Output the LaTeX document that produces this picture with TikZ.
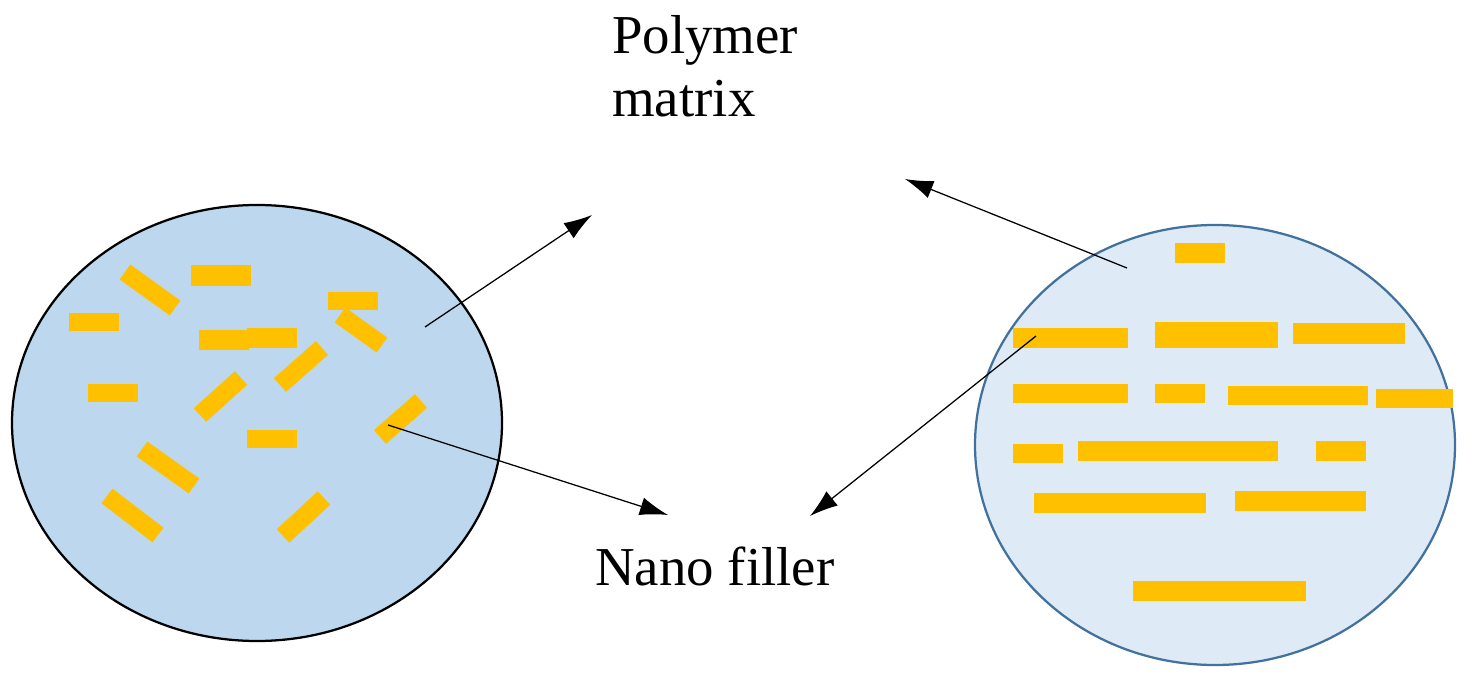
\documentclass[tikz,border=0pt]{standalone}
\usepackage{fontspec}
\setmainfont{Liberation Serif}
\usetikzlibrary{arrows.meta}
\definecolor{lblue}{HTML}{BDD7EE}
\definecolor{rblue}{HTML}{DEEBF7}
\definecolor{rborder}{HTML}{41719C}
\definecolor{barc}{HTML}{FFC000}
\tikzset{
  fil/.style={fill=barc,draw=none},
  arr/.style={-{Latex[length=20pt,width=13pt]},line width=0.9pt},
  lbl/.style={font=\fontsize{39}{45}\selectfont,align=left,inner sep=0pt}
}
\newcommand{\hbr}[4]{\fill[fil] (#1,-#2) rectangle (#3,-#4);}
\newcommand{\rbr}[4]{\draw[barc,line width=13pt] (#1,-#2) -- (#3,-#4);}
\begin{document}
\begin{tikzpicture}[x=0.025cm,y=0.025cm]
\useasboundingbox (0,0) rectangle (1470,-681);
\coordinate (L) at (257,-423);
\coordinate (R) at (1215,-445);
\fill[lblue] (L) ellipse [x radius=245,y radius=218];
\draw[line width=1.6pt] (L) ellipse [x radius=245,y radius=218];
\fill[rblue] (R) ellipse [x radius=240,y radius=220];
\draw[rborder,line width=1.6pt] (R) ellipse [x radius=240,y radius=220];
% left bars
\rbr{125}{272}{175}{308}
\hbr{191}{265}{251}{286}
\hbr{69}{313}{119}{331}
\hbr{328}{292}{378}{310}
\rbr{340}{315}{382}{345}
\hbr{199}{330}{249}{350}
\hbr{247}{328}{297}{348}
\rbr{280}{385}{322}{348}
\hbr{88}{384}{138}{402}
\rbr{200}{415}{241}{378}
\rbr{380}{437}{421}{401}
\hbr{247}{430}{297}{448}
\rbr{142}{449}{194}{486}
\rbr{107}{496}{158}{535}
\rbr{283}{536}{324}{498}
% right bars
\hbr{1175}{243}{1225}{263}
\hbr{1013}{328}{1128}{348}
\hbr{1155}{322}{1278}{348}
\hbr{1293}{323}{1405}{344}
\hbr{1013}{384}{1128}{403}
\hbr{1155}{384}{1205}{403}
\hbr{1228}{386}{1368}{405}
\hbr{1376}{389}{1453}{408}
\hbr{1013}{444}{1063}{463}
\hbr{1078}{441}{1278}{461}
\hbr{1316}{441}{1366}{461}
\hbr{1034}{493}{1206}{513}
\hbr{1235}{491}{1366}{511}
\hbr{1133}{581}{1306}{601}
% labels
\node[lbl,anchor=north west] (pm) at (612,-15) {Polymer\\matrix};
\node[lbl,anchor=base west] (nf) at (595,-585) {Nano filler};
% arrows
\coordinate (a1) at (425,-327); \coordinate (b1) at (592,-215);
\coordinate (a2) at (388,-425); \coordinate (b2) at (668,-515);
\coordinate (a3) at (1127,-268); \coordinate (b3) at (905,-179);
\coordinate (a4) at (1036,-336); \coordinate (b4) at (810,-516);
\draw[arr] (a1) -- (b1);
\draw[arr] (a2) -- (b2);
\draw[arr] (a3) -- (b3);
\draw[arr] (a4) -- (b4);
\end{tikzpicture}
\end{document}
